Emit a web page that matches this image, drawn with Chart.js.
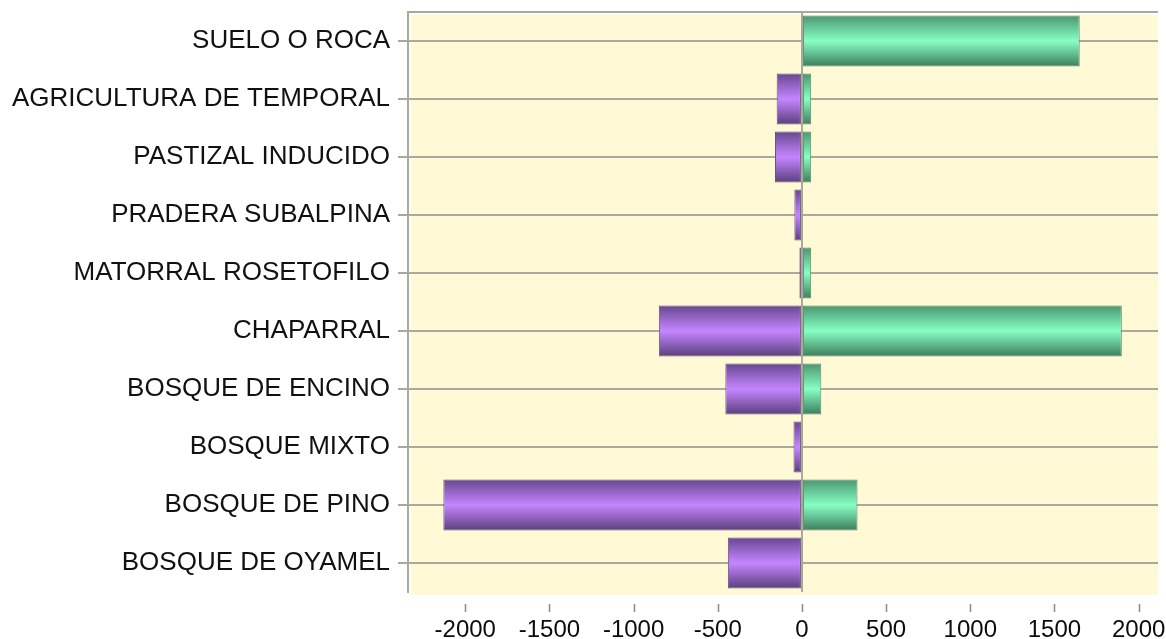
<!DOCTYPE html>
<html>
<head>
<meta charset="utf-8">
<script src="https://cdn.jsdelivr.net/npm/chart.js@4"></script>
<style>
  html, body { margin: 0; padding: 0; background: #ffffff; overflow: hidden; }
  #wrap { width: 1166px; height: 639px; overflow: hidden; }
</style>
</head>
<body>
<div id="wrap"><canvas id="chart" width="1190" height="639"></canvas></div>
<script>
// categories, top to bottom
const categories = [
  'SUELO O ROCA', 'AGRICULTURA DE TEMPORAL', 'PASTIZAL INDUCIDO', 'PRADERA SUBALPINA',
  'MATORRAL ROSETOFILO', 'CHAPARRAL', 'BOSQUE DE ENCINO', 'BOSQUE MIXTO',
  'BOSQUE DE PINO', 'BOSQUE DE OYAMEL'
];
// losses (purple) and gains (green)
const losses = [0, -150, -160, -45, -15, -850, -455, -50, -2130, -440];
const gains = [1650, 55, 55, 5, 55, 1900, 115, 5, 330, 5];
const xTicks = [-2000, -1500, -1000, -500, 0, 500, 1000, 1500, 2000];
const xMin = -2340;
const xMax = 2115;

const gridGray = '#a9a99d';

// cylinder-like shading for each bar
function shade(stops) {
  return function (ctx) {
    const chart = ctx.chart;
    const ys = chart.scales.y;
    if (!ys || !chart.chartArea) return stops[1];
    const c = ys.getPixelForValue(ctx.dataIndex);
    const h = (ys.height / categories.length) * 0.88 / 2;
    const g = chart.ctx.createLinearGradient(0, c - h, 0, c + h);
    g.addColorStop(0, stops[0]);
    g.addColorStop(0.5, stops[1]);
    g.addColorStop(1, stops[2]);
    return g;
  };
}

const plotBackground = {
  id: 'plotBackground',
  beforeDraw(chart) {
    const { ctx, chartArea: a } = chart;
    ctx.save();
    ctx.fillStyle = '#fff9d5';
    ctx.fillRect(a.left + 3, a.top + 3, a.right - a.left - 3, a.bottom - a.top);
    ctx.strokeStyle = gridGray;
    ctx.lineWidth = 2;
    ctx.beginPath();
    ctx.moveTo(a.left, a.top);
    ctx.lineTo(a.right, a.top);
    ctx.stroke();
    ctx.restore();
  },
  afterDraw(chart) {
    // detached tick marks under the plot
    const { ctx, chartArea: a } = chart;
    const xs = chart.scales.x;
    ctx.save();
    ctx.strokeStyle = '#8a8a8a';
    ctx.lineWidth = 1.5;
    xs.ticks.forEach(t => {
      const px = Math.round(xs.getPixelForValue(t.value)) + 0.5;
      ctx.beginPath();
      ctx.moveTo(px, a.bottom + 12);
      ctx.lineTo(px, a.bottom + 20);
      ctx.stroke();
    });
    ctx.restore();
  }
};

new Chart(document.getElementById('chart').getContext('2d'), {
  type: 'bar',
  data: {
    labels: categories,
    datasets: [
      {
        label: 'Pérdida',
        data: losses,
        backgroundColor: shade(['#664790', '#c586ff', '#5a3f7c']),
        borderColor: '#6a5484',
        borderWidth: 1,
        borderSkipped: false,
        barPercentage: 0.88,
        categoryPercentage: 1
      },
      {
        label: 'Ganancia',
        data: gains,
        backgroundColor: shade(['#4a9670', '#86ffc4', '#3d7c5c']),
        borderColor: '#5a8a70',
        borderWidth: 1,
        borderSkipped: false,
        barPercentage: 0.88,
        categoryPercentage: 1
      }
    ]
  },
  options: {
    indexAxis: 'y',
    responsive: false,
    animation: false,
    layout: { padding: { top: 12, right: 32, left: 0, bottom: 0 } },
    plugins: {
      legend: { display: false },
      tooltip: { enabled: false }
    },
    scales: {
      x: {
        stacked: true,
        min: xMin,
        max: xMax,
        border: { display: false },
        grid: {
          color: ctx => (ctx.tick && ctx.tick.value === 0 ? gridGray : 'rgba(0,0,0,0)'),
          lineWidth: 2,
          drawTicks: false
        },
        ticks: {
          maxRotation: 0,
          padding: 24,
          color: '#0c0c0c',
          font: { family: 'Liberation Sans, Arial, sans-serif', size: 24 },
          callback: v => String(v)
        },
        afterBuildTicks(scale) {
          scale.ticks = xTicks.map(v => ({ value: v }));
        },
        afterFit(scale) {
          scale.height = 47;
          scale.paddingLeft = 0;
          scale.paddingRight = 0;
        }
      },
      y: {
        stacked: true,
        border: { display: true, color: gridGray, width: 2 },
        grid: {
          offset: false,
          color: gridGray,
          lineWidth: 2,
          tickLength: 10,
          tickColor: gridGray
        },
        ticks: {
          padding: 8,
          color: '#111111',
          font: { family: 'Liberation Sans, Arial, sans-serif', size: 26 }
        },
        afterFit(scale) {
          scale.width = 408;
          scale.paddingTop = 0;
          scale.paddingBottom = 0;
        }
      }
    }
  },
  plugins: [plotBackground]
});
</script>
</body>
</html>
